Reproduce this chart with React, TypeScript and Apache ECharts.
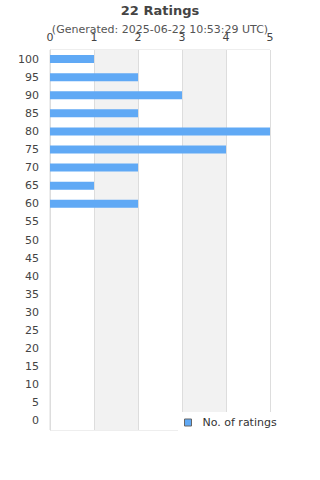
import React, { useEffect, useRef } from "react";
import * as echarts from "echarts";

const categories = ["0","5","10","15","20","25","30","35","40","45","50","55","60","65","70","75","80","85","90","95","100"];
const ratings = [0,0,0,0,0,0,0,0,0,0,0,0,2,1,2,4,5,2,3,2,1];
const xTicks = { min: 0, max: 5, interval: 1 };
const titleText = "22 Ratings";
const subText = "(Generated: 2025-06-22 10:53:29 UTC)";
const seriesName = "No. of ratings";

export default function App() {
  const ref = useRef<HTMLDivElement>(null);
  useEffect(() => {
    document.body.style.margin = "0";
    const chart = echarts.init(ref.current!, null, { renderer: "svg" });
    const font = "DejaVu Sans";
    chart.setOption({
      animation: false,
      textStyle: { fontFamily: font },
      title: [
        {
          text: titleText,
          left: "center",
          top: -1,
          textStyle: { fontFamily: font, fontSize: 13, fontWeight: "bold", color: "#444" },
        },
        {
          text: subText,
          left: "center",
          top: 19,
          textStyle: { fontFamily: font, fontSize: 11, fontWeight: "normal", color: "#555" },
        },
      ],
      grid: {
        left: 50,
        right: 50,
        top: 50,
        bottom: 50,
        show: true,
        borderColor: "#ddd",
        borderWidth: 1,
        backgroundColor: "transparent",
      },
      xAxis: {
        type: "value",
        position: "top",
        min: xTicks.min,
        max: xTicks.max,
        interval: xTicks.interval,
        axisLine: { show: false },
        axisTick: { show: false },
        axisLabel: { color: "#444", fontSize: 11, fontFamily: font, margin: 7 },
        splitLine: { show: true, lineStyle: { color: "#ddd", width: 1 } },
        splitArea: { show: true, areaStyle: { color: ["#ffffff", "#f2f2f2"] } },
      },
      yAxis: {
        type: "category",
        data: categories,
        axisLine: { show: true, lineStyle: { color: "#ddd" } },
        axisTick: { show: false },
        axisLabel: { color: "#444", fontSize: 11, fontFamily: font, margin: 11 },
        splitLine: { show: false },
      },
      legend: {
        data: [seriesName],
        left: 178,
        top: 412,
        padding: [5, 10, 5, 6],
        backgroundColor: "#ffffff",
        icon: "rect",
        itemWidth: 7,
        itemHeight: 7,
        itemGap: 10,
        itemStyle: { borderColor: "#666", borderWidth: 1 },
        textStyle: { fontFamily: font, fontSize: 11, color: "#333", padding: [0, 0, 0, 6] },
      },
      series: [
        {
          name: seriesName,
          type: "bar",
          data: ratings,
          barWidth: 8,
          itemStyle: { color: "#60a9f5" },
          emphasis: { disabled: true },
        },
      ],
    });
    return () => chart.dispose();
  }, []);
  return <div ref={ref} style={{ width: 320, height: 480 }} />;
}
